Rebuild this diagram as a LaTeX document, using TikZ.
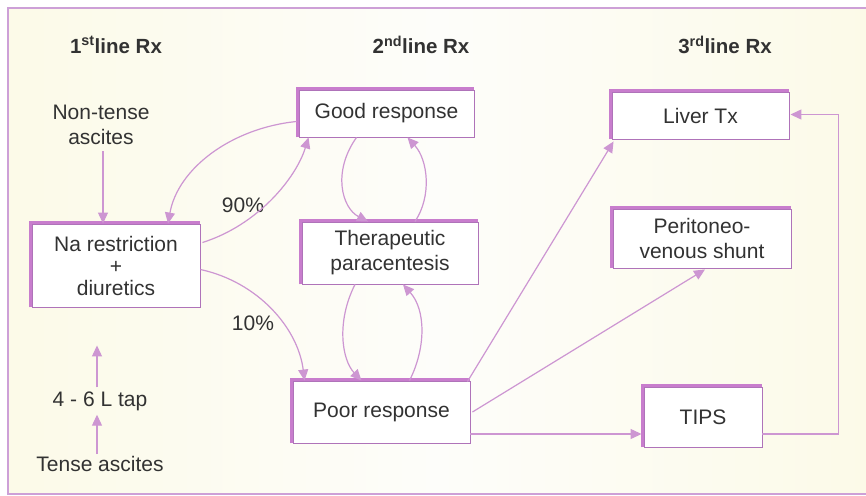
\documentclass[tikz,border=0pt]{standalone}
\usepackage{fontspec}
\setmainfont{Liberation Sans}
\usetikzlibrary{arrows.meta,calc}

\definecolor{bgcream}{RGB}{252,250,232}
\definecolor{bgwhite}{RGB}{253,253,250}
\definecolor{framepurple}{RGB}{205,160,215}
\definecolor{edgepurple}{RGB}{175,115,185}
\definecolor{thickpurple}{RGB}{200,125,205}
\definecolor{linkpurple}{RGB}{205,150,210}
\definecolor{inkgray}{RGB}{50,50,50}

\tikzset{
  txt/.style={font=\fontsize{21}{25}\selectfont, text=inkgray, align=center, inner sep=0pt},
  head/.style={font=\fontsize{20.5}{24}\selectfont\bfseries, text=inkgray, inner sep=0pt},
  boxnode/.style={txt, draw=edgepurple, line width=0.9pt, fill=white,
    minimum width=#1, inner sep=0pt},
  link/.style={draw=linkpurple, line width=1.2pt,
    -{Triangle[length=11pt,width=10pt]}},
}

% thick top and left edge of a box
\newcommand{\boxedge}[1]{%
  \draw[thickpurple, line width=3.5pt, line cap=butt]
    ($(#1.south west)+(-1,0)$) -- ($(#1.north west)+(-1,-1)$) -- ($(#1.north east)+(0,-1)$);
}

\begin{document}
\begin{tikzpicture}[x=1pt,y=-1pt]
\useasboundingbox (0,0) rectangle (866,495);

% background panel
\shade[left color=bgcream, right color=bgcream, middle color=bgwhite] (8,8) rectangle (866,494);
\draw[framepurple, line width=1.2pt] (870,8) -- (8,8) -- (8,494) -- (870,494);

% column headings
\node[head] (h1) at (116,45) {1\textsuperscript{st}line Rx};
\node[head] (h2) at (421,45) {2\textsuperscript{nd}line Rx};
\node[head] (h3) at (725,45) {3\textsuperscript{rd}line Rx};

% boxes
\node[boxnode=168pt, minimum height=83pt] (na) at (116,265.5)
  {Na restriction\\[-3pt]+\\[-3pt]diuretics};
\node[boxnode=175pt, minimum height=47pt] (good) at (386.5,113.5) {Good response};
\node[boxnode=176pt, minimum height=62pt] (ther) at (390,253) {Therapeutic\\paracentesis};
\node[boxnode=177pt, minimum height=62pt] (poor) at (381.5,412) {Poor response};
\node[boxnode=177pt, minimum height=47pt] (liver) at (700.5,115.5) {Liver Tx};
\node[boxnode=178pt, minimum height=59pt] (pvs) at (702,238.5) {Peritoneo-\\venous shunt};
\node[boxnode=118pt, minimum height=60pt] (tips) at (703,417) {TIPS};

\foreach \b in {na,good,ther,poor,liver,pvs,tips} {\boxedge{\b}}

% free labels
\node[txt] (nontense) at (101,125) {Non-tense\\ascites};
\node[txt] (tap) at (100,401) {4 - 6 L tap};
\node[txt] (tense) at (100,464) {Tense ascites};
\node[txt] (p90) at (243,205) {90\%};
\node[txt] (p10) at (253,323) {10\%};

% first line connectors
\draw[link] ($(nontense.south)+(2,6)$) -- ($(na.north)+(-13,0)$);
\coordinate (naunder) at ($(na.south)+(-19,38)$);
\draw[link] ($(tap.north)+(-3,-4)$) -- (naunder);
\draw[link] ($(tense.north)+(-3,-2)$) -- ($(tap.south)+(-3,4)$);

\draw[link] ($(good.west)+(-2,8)$) .. controls (232,128) and (178,168) .. ($(na.north)+(52,0)$);
\draw[link] ($(na.east)+(2,-23)$) .. controls (258,225) and (296,178) .. ($(good.south west)+(10,0)$);
\draw[link] ($(na.east)+(0,4)$) .. controls (258,282) and (298,328) .. ($(poor.north west)+(12,0)$);

% second line loops
\draw[link] ($(good.south)+(-30,0)$) .. controls (332,172) and (342,208) .. ($(ther.north)+(-22,0)$);
\draw[link] ($(ther.north)+(25,0)$) .. controls (432,196) and (428,160) .. ($(good.south)+(21,0)$);
\draw[link] ($(ther.south)+(-35,0)$) .. controls (336,322) and (342,360) .. ($(poor.north)+(-20,0)$);
\draw[link] ($(poor.north)+(28,0)$) .. controls (426,348) and (426,310) .. ($(ther.south)+(13,0)$);

% third line connectors
\draw[link] ($(poor.north east)+(-3,1)$) -- ($(liver.south west)+(2,2)$);
\draw[link] ($(poor.east)+(2,0)$) -- ($(pvs.south)+(3,1)$);
\draw[link] ($(poor.east)+(0,22)$) -- ($(tips.west)+(-2,17)$);
\draw[link] ($(tips.east)+(0,17)$) -- ++(76,0) |- ($(liver.east)+(1,-1)$);

\end{tikzpicture}
\end{document}
